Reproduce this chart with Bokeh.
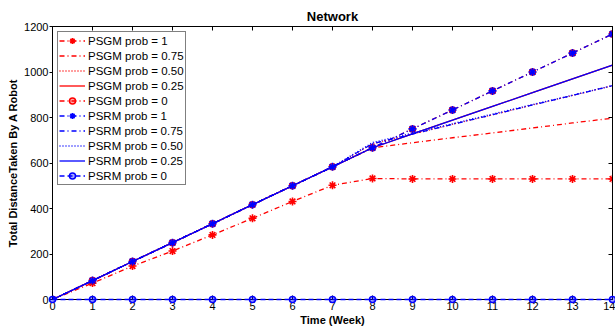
from bokeh.plotting import figure
from bokeh.models import LinearAxis, FixedTicker, Range1d, Legend, LegendItem
from bokeh.embed import file_html
from bokeh.resources import INLINE

weeks = list(range(15))
psgm_1 = [0, 72, 147, 213, 284, 357, 431, 502, 532, 530, 530, 530, 530, 530, 530]
psgm_075 = [0, 83, 167, 250, 333, 417, 500, 583, 667, 689, 711, 732, 754, 776, 797]
psgm_050 = [0, 83, 167, 250, 333, 417, 500, 583, 685, 727, 770, 812, 855, 897, 940]
psgm_025 = [0, 83, 167, 250, 333, 417, 500, 583, 667, 728, 788, 849, 909, 970, 1030]
psgm_0 = [0, 83, 167, 250, 333, 417, 500, 583, 667, 750, 833, 917, 1000, 1083, 1167]
psrm_1 = [0, 83, 167, 250, 333, 417, 500, 583, 667, 750, 833, 917, 1000, 1083, 1167]
psrm_075 = [0, 83, 167, 250, 333, 417, 500, 583, 685, 727, 770, 812, 855, 897, 940]
psrm_050 = [0, 83, 167, 250, 333, 417, 500, 583, 690, 732, 773, 815, 857, 898, 940]
psrm_025 = [0, 83, 167, 250, 333, 417, 500, 583, 667, 728, 788, 849, 909, 970, 1030]
psrm_0 = [0, 0, 0, 0, 0, 0, 0, 0, 0, 0, 0, 0, 0, 0, 0]

labels = ["PSGM prob = 1", "PSGM prob = 0.75", "PSGM prob = 0.50", "PSGM prob = 0.25",
          "PSGM prob = 0", "PSRM prob = 1", "PSRM prob = 0.75", "PSRM prob = 0.50",
          "PSRM prob = 0.25", "PSRM prob = 0"]
series = [psgm_1, psgm_075, psgm_050, psgm_025, psgm_0,
          psrm_1, psrm_075, psrm_050, psrm_025, psrm_0]
x_ticks = list(range(15))
y_ticks = [0, 200, 400, 600, 800, 1000, 1200]

RED = "#ff0000"
BLUE = "#0000ff"
DASHDOT = "5 3 1 3"
styles = [
    (RED, DASHDOT, "asterisk"),
    (RED, DASHDOT, None),
    (RED, "1 2", None),
    (RED, "solid", None),
    (RED, DASHDOT, "circle"),
    (BLUE, DASHDOT, "asterisk"),
    (BLUE, DASHDOT, None),
    (BLUE, "1 2", None),
    (BLUE, "solid", None),
    (BLUE, "5 3", "circle"),
]

FONT = "Liberation Sans"

p = figure(width=615, height=328, output_backend="svg", toolbar_location=None,
           x_range=Range1d(0, 14), y_range=Range1d(0, 1200),
           min_border_left=52, min_border_right=3, min_border_top=26,
           min_border_bottom=29, x_axis_location=None, y_axis_location=None)
p.grid.visible = False
p.outline_line_color = "black"
p.outline_line_width = 1
p.background_fill_color = "white"
p.border_fill_color = "white"

p.title.text = "Network"
p.title.align = "center"
p.title.text_font = FONT
p.title.text_font_size = "13px"
p.title.text_font_style = "bold"
p.title.text_color = "black"
p.title.standoff = 6

xb = LinearAxis(ticker=FixedTicker(ticks=x_ticks), axis_label="Time (Week)")
yl = LinearAxis(ticker=FixedTicker(ticks=y_ticks), axis_label="Total DistanceTaken By A Robot")
xt = LinearAxis(ticker=FixedTicker(ticks=x_ticks),
                major_label_overrides={t: "" for t in x_ticks})
yr = LinearAxis(ticker=FixedTicker(ticks=y_ticks),
                major_label_overrides={t: "" for t in y_ticks})
for ax in (xb, yl, xt, yr):
    ax.axis_line_color = "black"
    ax.major_tick_line_color = "black"
    ax.minor_tick_line_color = None
    ax.major_label_text_font = FONT
    ax.major_label_text_font_size = "11px"
    ax.major_label_text_color = "black"
    ax.axis_label_text_font = FONT
    ax.axis_label_text_font_size = "11px"
    ax.axis_label_text_font_style = "bold"
    ax.axis_label_text_color = "black"
xb.major_tick_in = 4
xb.major_tick_out = 0
xb.major_label_standoff = 2
xb.axis_label_standoff = 1
yl.major_tick_in = 0
yl.major_tick_out = 3
yl.major_label_standoff = 1
yl.axis_label_standoff = 2
xt.major_tick_in = 4
xt.major_tick_out = 0
xt.major_label_standoff = 0
xt.axis_label = ""
xt.axis_label_standoff = 0
xt.axis_label_text_font_size = "6px"
yr.major_tick_in = 4
yr.major_tick_out = 0
yr.major_label_standoff = 0
p.add_layout(xb, "below")
p.add_layout(yl, "left")
p.add_layout(xt, "above")
p.add_layout(yr, "right")

items = []
for lab, ys, (col, dash, marker) in zip(labels, series, styles):
    rs = []
    r = p.line(weeks, ys, line_color=col, line_dash=dash, line_width=1.3)
    rs.append(r)
    if marker == "asterisk":
        m = p.scatter(weeks, ys, marker="asterisk", size=8, line_color=col, line_width=1.6)
        rs.append(m)
    elif marker == "circle":
        m = p.scatter(weeks, ys, marker="circle", size=6, line_color=col, line_width=1.5,
                      fill_color=col, fill_alpha=0.35)
        rs.append(m)
    if lab == "PSRM prob = 0":
        for rr in rs:
            rr.level = "overlay"
    items.append(LegendItem(label=lab, renderers=rs))

legend = Legend(items=items, location="top_left")
legend.margin = 5
legend.padding = 1
legend.spacing = 0
legend.label_height = 15
legend.glyph_height = 15
legend.glyph_width = 26
legend.label_standoff = 3
legend.label_text_font = FONT
legend.label_text_font_size = "11.5px"
legend.label_text_color = "black"
legend.border_line_color = "black"
legend.border_line_width = 1
legend.background_fill_color = "white"
legend.background_fill_alpha = 1
p.add_layout(legend, "center")

open("out.html", "w").write(file_html(p, INLINE))
